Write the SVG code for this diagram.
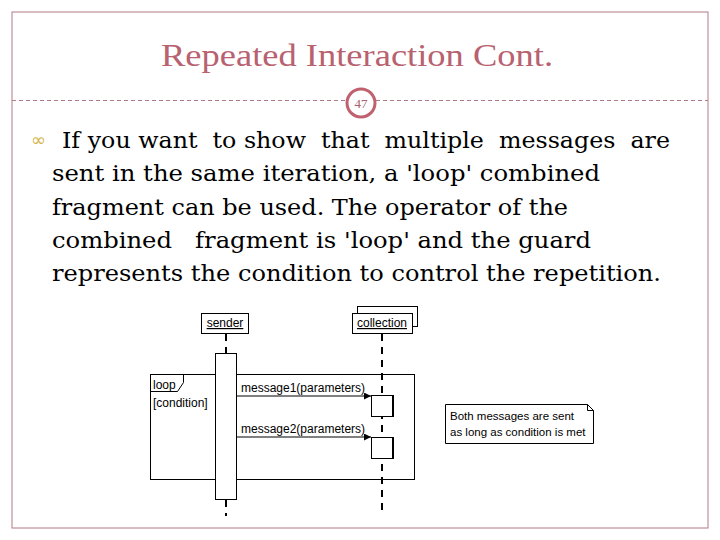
<svg xmlns="http://www.w3.org/2000/svg" width="720" height="540" viewBox="0 0 720 540">
<defs>
<style>
.title{font-family:"Liberation Serif",serif;font-size:32px;fill:#b8616f;}
.body{font-family:"DejaVu Serif",serif;font-size:22px;fill:#000;white-space:pre;}
.uml{font-family:"Liberation Sans",Arial,sans-serif;font-size:12px;fill:#000;}
.note{font-family:"Liberation Sans",Arial,sans-serif;font-size:11.5px;fill:#000;}
.box{fill:#fff;stroke:#000;stroke-width:1;}
.life{stroke:#000;stroke-width:2;stroke-dasharray:7,6;fill:none;}
.msg{stroke:#000;stroke-width:1;fill:none;}
</style>
<marker id="arr" viewBox="0 0 10 10" refX="10" refY="5" markerWidth="7" markerHeight="7" markerUnits="userSpaceOnUse" orient="auto">
<path d="M0,0 L10,5 L0,10 Z" fill="#000"/>
</marker>
</defs>
<rect x="0" y="0" width="720" height="540" fill="#fff"/>
<rect x="12" y="12" width="696" height="516" fill="none" stroke="#b27a85" stroke-width="1"/>
<text class="title" x="357" y="66" text-anchor="middle" textLength="392" lengthAdjust="spacingAndGlyphs">Repeated Interaction Cont.</text>
<line x1="12" y1="100.5" x2="708" y2="100.5" stroke="#b27a85" stroke-width="1" stroke-dasharray="4,3"/>
<circle cx="361" cy="103" r="14" fill="#fff" stroke="#c0616f" stroke-width="3"/>
<text x="361" y="108" text-anchor="middle" font-family="Liberation Serif,serif" font-size="13" fill="#a8606c">47</text>
<text x="31" y="146" font-family="DejaVu Sans,sans-serif" font-size="18" fill="#d4b54a">∞</text>
<text class="body" x="62" y="148" textLength="608" lengthAdjust="spacingAndGlyphs" xml:space="preserve">If you want  to show  that  multiple  messages  are</text>
<text class="body" x="52" y="181" textLength="548" lengthAdjust="spacingAndGlyphs">sent in the same iteration, a 'loop' combined</text>
<text class="body" x="52" y="215" textLength="516" lengthAdjust="spacingAndGlyphs">fragment can be used. The operator of the</text>
<text class="body" x="52" y="248" textLength="539" lengthAdjust="spacingAndGlyphs" xml:space="preserve">combined   fragment is 'loop' and the guard</text>
<text class="body" x="52" y="281" textLength="609" lengthAdjust="spacingAndGlyphs">represents the condition to control the repetition.</text>
<g id="connectors">
<line class="life" x1="226" y1="334" x2="226" y2="353"/>
<line class="life" x1="226" y1="500" x2="226" y2="516"/>
<line class="life" x1="382" y1="334" x2="382" y2="516"/>
<line class="msg" x1="237" y1="396" x2="371" y2="396" marker-end="url(#arr)"/>
<line class="msg" x1="237" y1="437" x2="371" y2="437" marker-end="url(#arr)"/>
</g>
<g id="sender">
<rect class="box" x="201.5" y="313.5" width="47" height="20"/>
<text class="uml" x="225" y="327" text-anchor="middle" text-decoration="underline">sender</text>
</g>
<g id="collection">
<rect class="box" x="357.5" y="306.5" width="60" height="20"/>
<rect class="box" x="352.5" y="313.5" width="60" height="20"/>
<text class="uml" x="382" y="327" text-anchor="middle" text-decoration="underline">collection</text>
</g>
<g id="loop">
<rect x="150.5" y="374.5" width="264" height="105" fill="none" stroke="#000" stroke-width="1"/>
<path d="M150.5,391.5 H177.5 L183.5,382.5 V374.5" fill="none" stroke="#000" stroke-width="1"/>
<text class="uml" x="153" y="389">loop</text>
<text class="uml" x="153" y="407">[condition]</text>
</g>
<g id="sender-activation">
<rect class="box" x="215.5" y="353.5" width="21" height="146"/>
</g>
<g id="msg1">
<text class="uml" x="241" y="392">message1(parameters)</text>
<rect class="box" x="371.5" y="395.5" width="21" height="21"/>
<line x1="393" y1="395" x2="393" y2="417" stroke="#000" stroke-width="2"/>
</g>
<g id="msg2">
<text class="uml" x="241" y="433">message2(parameters)</text>
<rect class="box" x="371.5" y="437.5" width="21" height="21"/>
<line x1="393" y1="437" x2="393" y2="459" stroke="#000" stroke-width="2"/>
</g>
<g id="note">
<path d="M445.5,404.5 H587.5 L593.5,410.5 V443.5 H445.5 Z" fill="#fff" stroke="#000" stroke-width="1"/>
<path d="M587.5,404.5 V410.5 H593.5" fill="none" stroke="#000" stroke-width="1"/>
<text class="note" x="450" y="420">Both messages are sent</text>
<text class="note" x="450" y="436">as long as condition is met</text>
</g>
</svg>
